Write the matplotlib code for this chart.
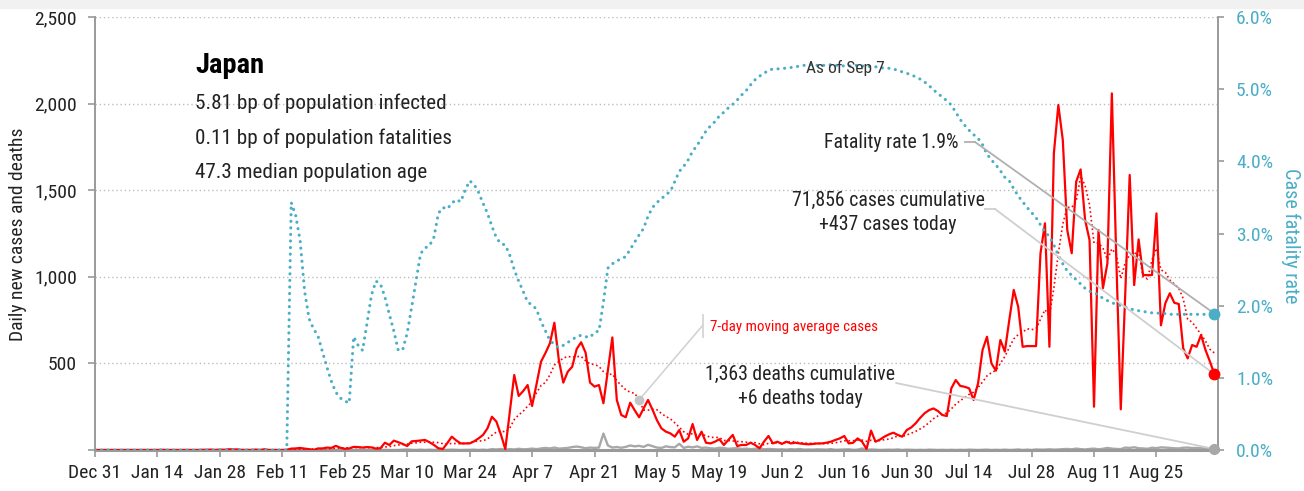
import os
import numpy as np
import pandas as pd
import matplotlib
matplotlib.use("Agg")
import matplotlib.pyplot as plt
import matplotlib.dates as mdates
from matplotlib import font_manager as fm
from matplotlib.lines import Line2D
from matplotlib.patches import Rectangle
from matplotlib.ticker import FixedLocator, FuncFormatter

# daily data, Dec 31 2019 .. Sep 7 2020
dates = pd.date_range("2019-12-31", "2020-09-07", freq="D")

cases_dec = [0]
cases_jan = [0, 0, 0, 0, 0, 0, 0, 0, 0, 0, 0, 0, 0, 0, 1, 0, 0, 0, 0, 0, 0, 0, 0,
             1, 1, 2, 0, 2, 1, 4, 3]
cases_feb = [3, 0, 0, 0, 2, 0, 4, 0, 0, 0, 0, 1, 8, 9, 12, 8, 5, 0, 9, 9, 14, 12, 24,
             13, 7, 9, 18, 17, 14]
cases_mar = [17, 15, 8, 10, 42, 29, 54, 45, 35, 23, 50, 52, 55, 58, 45, 29, 10, 6, 40,
             77, 55, 38, 38, 38, 50, 67, 87, 125, 192, 164, 90]
cases_apr = [5, 220, 433, 312, 340, 375, 254, 380, 510, 560, 616, 735, 520, 389, 452,
             481, 583, 622, 562, 389, 366, 375, 270, 460, 650, 289, 202, 189, 273, 230]
cases_may = [189, 240, 289, 233, 172, 125, 106, 96, 77, 115, 48, 67, 150, 58, 106, 42,
             38, 48, 62, 29, 58, 87, 23, 29, 29, 42, 29, 10, 48, 81, 38]
cases_jun = [48, 35, 48, 38, 42, 38, 35, 33, 35, 38, 38, 42, 48, 58, 67, 81, 38, 42, 67,
             48, 6, 112, 48, 60, 77, 90, 100, 87, 77, 115]
cases_jul = [130, 154, 185, 212, 230, 240, 225, 202, 196, 356, 404, 370, 365, 356, 289,
             385, 577, 654, 500, 458, 635, 568, 750, 924, 827, 596, 600, 600, 600, 1136,
             1309]
cases_aug = [596, 1713, 1992, 1790, 1270, 1136, 1549, 1620, 1328, 1212, 250, 1270, 934,
             1078, 2059, 1100, 235, 900, 1588, 952, 1216, 1010, 1010, 1010, 1366, 720,
             848, 905, 850, 843, 587]
cases_sep = [529, 606, 596, 664, 577, 510, 437]

deaths_dec = [0]
deaths_jan = [0, 0, 0, 0, 0, 0, 0, 0, 0, 0, 0, 0, 0, 0, 0, 0, 0, 0, 0, 0, 0, 0, 0, 0,
              0, 0, 0, 0, 0, 0, 0]
deaths_feb = [0, 0, 0, 0, 0, 0, 0, 0, 0, 0, 0, 0, 1, 0, 0, 0, 0, 0, 0, 1, 0, 0, 0, 0,
              1, 0, 0, 1, 0]
deaths_mar = [1, 0, 1, 0, 1, 0, 0, 0, 2, 3, 1, 0, 2, 0, 2, 0, 3, 0, 1, 2, 1, 0, 1, 1,
              2, 0, 2, 0, 5, 3, 6]
deaths_apr = [2, 5, 3, 7, 4, 5, 8, 5, 9, 12, 9, 14, 8, 10, 12, 17, 20, 16, 10, 14, 12,
              14, 95, 26, 14, 17, 13, 18, 26, 21]
deaths_may = [24, 18, 30, 22, 14, 12, 21, 17, 15, 36, 12, 19, 15, 21, 12, 14, 10, 8, 13,
              11, 7, 9, 11, 6, 8, 5, 7, 12, 4, 6, 5]
deaths_jun = [3, 4, 2, 5, 3, 6, 2, 3, 2, 4, 3, 2, 5, 1, 2, 3, 4, 1, 2, 9, 1, 3, 2, 0, 1,
              2, 1, 3, 0, 2]
deaths_jul = [1, 0, 1, 0, 2, 1, 0, 1, 0, 1, 0, 1, 0, 2, 1, 0, 1, 2, 0, 1, 0, 2, 0, 1, 3,
              0, 2, 0, 3, 2, 2]
deaths_aug = [4, 2, 3, 5, 6, 4, 8, 5, 3, 6, 8, 4, 7, 12, 8, 6, 5, 14, 12, 16, 10, 9, 7,
              13, 11, 15, 14, 12, 10, 9, 13]
deaths_sep = [14, 11, 12, 10, 9, 8, 6]

# case fatality rate, percent
rate_dec = [0]
rate_jan = [0, 0, 0, 0, 0, 0, 0, 0, 0, 0, 0, 0, 0, 0, 0, 0, 0, 0, 0, 0, 0, 0, 0, 0, 0,
            0, 0, 0, 0, 0, 0]
rate_feb = [0, 0, 0, 0, 0, 0, 0, 0, 0, 0, 0, 0, 3.43, 3.25, 2.90, 2.20, 1.82, 1.68,
            1.58, 1.36, 1.15, 0.95, 0.80, 0.72, 0.68, 0.65, 1.57, 1.45, 1.38]
rate_mar = [1.76, 2.15, 2.34, 2.30, 2.12, 1.88, 1.65, 1.38, 1.39, 1.62, 1.98, 2.35,
            2.72, 2.80, 2.83, 2.95, 3.28, 3.36, 3.34, 3.42, 3.47, 3.44, 3.60, 3.73, 3.68,
            3.57, 3.42, 3.28, 3.10, 2.94, 2.86]
rate_apr = [2.84, 2.70, 2.50, 2.34, 2.20, 2.05, 2.01, 1.95, 1.78, 1.65, 1.52, 1.46,
            1.42, 1.45, 1.49, 1.53, 1.57, 1.59, 1.57, 1.56, 1.63, 1.65, 2.05, 2.52, 2.58,
            2.62, 2.65, 2.68, 2.78, 2.88]
rate_may = [2.98, 3.07, 3.24, 3.36, 3.43, 3.48, 3.54, 3.58, 3.72, 3.86, 3.93, 4.02,
            4.14, 4.22, 4.32, 4.42, 4.49, 4.55, 4.63, 4.68, 4.74, 4.79, 4.85, 4.92, 4.98,
            5.06, 5.13, 5.18, 5.22, 5.26, 5.28]
rate_jun = [5.28, 5.29, 5.29, 5.30, 5.31, 5.32, 5.33, 5.34, 5.33, 5.33, 5.33, 5.33,
            5.34, 5.33, 5.33, 5.32, 5.32, 5.33, 5.33, 5.32, 5.32, 5.31, 5.31, 5.30, 5.29,
            5.29, 5.28, 5.26, 5.24, 5.22]
rate_jul = [5.20, 5.17, 5.14, 5.10, 5.05, 4.99, 4.94, 4.89, 4.84, 4.78, 4.68, 4.58,
            4.50, 4.43, 4.37, 4.32, 4.23, 4.10, 4.02, 3.95, 3.87, 3.78, 3.73, 3.62, 3.52,
            3.44, 3.36, 3.29, 3.22, 3.12, 3.02]
rate_aug = [2.96, 2.84, 2.70, 2.58, 2.48, 2.42, 2.36, 2.30, 2.24, 2.20, 2.18, 2.15,
            2.10, 2.07, 2.04, 2.02, 2.00, 1.98, 1.96, 1.94, 1.93, 1.92, 1.91, 1.90, 1.90,
            1.89, 1.89, 1.88, 1.88, 1.88, 1.88]
rate_sep = [1.88, 1.88, 1.88, 1.88, 1.88, 1.89, 1.89]

cases = np.array(cases_dec + cases_jan + cases_feb + cases_mar + cases_apr + cases_may
                 + cases_jun + cases_jul + cases_aug + cases_sep, dtype=float)
deaths = np.array(deaths_dec + deaths_jan + deaths_feb + deaths_mar + deaths_apr
                  + deaths_may + deaths_jun + deaths_jul + deaths_aug + deaths_sep,
                  dtype=float)
rate = np.array(rate_dec + rate_jan + rate_feb + rate_mar + rate_apr + rate_may
                + rate_jun + rate_jul + rate_aug + rate_sep)
avg7 = pd.Series(cases).rolling(7, min_periods=1).mean().values

RED = "#ff0000"
TEAL = "#4aaec6"
GRAY = "#a8a8a8"
AXGRAY = "#9a9a9a"
INK = "#222222"

W, H = 1304, 491
K = 6 / 2500  # left-axis value -> right-axis value


def find_narrow(bold=False):
    # look for an installed condensed/narrow face
    files = set(f.fname for f in fm.fontManager.ttflist)
    files |= set(fm.findSystemFonts())
    prefs = ["liberationsansnarrow", "robotocondensed", "opensanscondensed",
             "opensans_condensed", "notosans-condensed", "notosanscondensed",
             "dejavusanscondensed", "condensed", "narrow"]
    bad = ["italic", "oblique", "extra", "ultra", "semi", "light", "thin", "black",
           "medium", "semibold"]
    best, best_rank = None, 99
    for f in files:
        base = os.path.basename(f).lower().replace(" ", "")
        if any(b in base for b in bad):
            continue
        if bold != ("bold" in base):
            continue
        for r, p in enumerate(prefs):
            if p in base and r < best_rank:
                best, best_rank = f, r
    return best


NARROW = find_narrow(False)
NARROW_B = find_narrow(True) or NARROW
SCALE = 1.0 if NARROW else 0.8


def FP(size, bold=False):
    f = NARROW_B if bold else NARROW
    if f:
        return fm.FontProperties(fname=f, size=size * SCALE)
    return fm.FontProperties(family="DejaVu Sans", size=size * SCALE,
                             weight="bold" if bold else "normal")


def fp(x, y):
    # pixel position (from top-left) -> figure fraction
    return x / W, 1 - y / H


fig = plt.figure(figsize=(W / 100, H / 100), dpi=100)
fig.patches.append(Rectangle((0, 1 - 8 / H), 1, 8 / H, transform=fig.transFigure,
                             color="#f1f1f1", zorder=0))

ax = fig.add_axes([95 / W, 41 / H, (1218 - 95) / W, 433 / H])
ax2 = ax.twinx()

x = mdates.date2num(dates)
ax.plot(x, deaths, color=GRAY, lw=1.7, zorder=2)
ax.plot(x, avg7, color=RED, lw=1.2, ls=(0, (1, 1.6)), zorder=3)
ax.plot(x, cases, color=RED, lw=1.6, zorder=4)

ax2.plot(x, rate, color=TEAL, lw=2.2, ls=(0, (0.05, 2.1)), dash_capstyle="round",
         zorder=3)
ax2.plot(x[-1], rate[-1], "o", ms=7.5, color=TEAL, zorder=7, clip_on=False)
ax2.plot(x[-1], cases[-1] * K, "o", ms=7.5, color=RED, zorder=7, clip_on=False)
ax2.plot(x[-1], deaths[-1] * K, "o", ms=7, color=GRAY, zorder=7, clip_on=False)

ax.set_xlim(x[0], x[-1] + 0.8)
ax.set_ylim(0, 2500)
ax2.set_ylim(0, 6)

yt = [0, 500, 1000, 1500, 2000, 2500]
ax.yaxis.set_major_locator(FixedLocator(yt))
ax.yaxis.set_major_formatter(FuncFormatter(lambda v, p: "" if v == 0 else f"{v:,.0f}"))
ax2.yaxis.set_major_locator(FixedLocator([0, 1, 2, 3, 4, 5, 6]))
ax2.yaxis.set_major_formatter(FuncFormatter(lambda v, p: f"{v:.1f}%"))

xt = x[::14]
ax.xaxis.set_major_locator(FixedLocator(xt))
ax.set_xticklabels([f"{d:%b} {d.day}" for d in dates[::14]])

ax.yaxis.grid(True, color="#bdbdbd", lw=1, ls=(0, (1, 2)))
ax.set_axisbelow(True)

for a in (ax, ax2):
    a.spines["top"].set_visible(False)
    a.spines["left"].set_color(AXGRAY)
    a.spines["right"].set_color(AXGRAY)
    a.spines["left"].set_linewidth(1.2)
    a.spines["right"].set_linewidth(1.2)
    a.spines["bottom"].set_color(AXGRAY)
    a.spines["bottom"].set_linewidth(2.2)
ax2.spines["bottom"].set_visible(False)

ax.tick_params(axis="y", length=5, width=1.2, color=AXGRAY, pad=8, labelcolor=INK)
ax.tick_params(axis="x", length=5, width=1.2, color=AXGRAY, pad=5, labelcolor=INK)
ax2.tick_params(axis="y", length=4, width=1.2, color=AXGRAY, pad=9, labelcolor=TEAL)
for lbl in ax.get_xticklabels() + ax.get_yticklabels() + ax2.get_yticklabels():
    lbl.set_fontproperties(FP(14))

fig.text(*fp(18, 234), "Daily new cases and deaths", rotation=90, ha="center",
         va="center", fontproperties=FP(14), color=INK)
fig.text(*fp(1291, 236), "Case fatality rate", rotation=270, ha="center",
         va="center", fontproperties=FP(14.5), color=TEAL)

# country box
fig.text(*fp(195, 72.5), "Japan", fontproperties=FP(20.5, bold=True), color="black")
fig.text(*fp(195, 109), "5.81 bp of population infected", fontproperties=FP(15.2),
         color=INK)
fig.text(*fp(195, 143.5), "0.11 bp of population fatalities", fontproperties=FP(15.2),
         color=INK)
fig.text(*fp(195, 178.5), "47.3 median population age", fontproperties=FP(15.2),
         color=INK)

fig.text(*fp(845, 72.5), "As of Sep 7", ha="center", fontproperties=FP(12.5),
         color="#333333")

# end-of-series annotations
fig.text(*fp(958, 148), "Fatality rate 1.9%", ha="right", fontproperties=FP(14.2),
         color=INK)
fig.add_artist(Line2D([965 / W, 975 / W], [1 - 142 / H, 1 - 142 / H], color="#b0b0b0",
                      lw=1.3))
ax2.annotate("", xy=(x[-1], rate[-1]), xytext=fp(975, 142),
             textcoords="figure fraction",
             arrowprops=dict(arrowstyle="-", color="#b0b0b0", lw=1.3, shrinkA=0,
                             shrinkB=0), zorder=5)

fig.text(*fp(888, 206), "71,856 cases cumulative", ha="center", fontproperties=FP(14.2),
         color=INK)
fig.text(*fp(888, 230), "+437 cases today", ha="center", fontproperties=FP(14.2),
         color=INK)
fig.add_artist(Line2D([985 / W, 995 / W], [1 - 209 / H, 1 - 209 / H], color="#cfcfcf",
                      lw=1.3))
ax2.annotate("", xy=(x[-1], cases[-1] * K), xytext=fp(995, 209),
             textcoords="figure fraction",
             arrowprops=dict(arrowstyle="-", color="#cfcfcf", lw=1.3, shrinkA=0,
                             shrinkB=0), zorder=5)

fig.text(*fp(800, 380), "1,363 deaths cumulative", ha="center", fontproperties=FP(14.2),
         color=INK)
fig.text(*fp(800, 404), "+6 deaths today", ha="center", fontproperties=FP(14.2),
         color=INK)
ax2.annotate("", xy=(x[-1], deaths[-1] * K), xytext=fp(896, 383),
             textcoords="figure fraction",
             arrowprops=dict(arrowstyle="-", color="#cfcfcf", lw=1.3, shrinkA=0,
                             shrinkB=0), zorder=5)

# 7-day average label
i_dot = 122
fig.text(*fp(710, 330.5), "7-day moving average cases", fontproperties=FP(10.8),
         color=RED)
fig.add_artist(Line2D([703 / W, 703 / W], [1 - 315 / H, 1 - 337 / H], color="#d5d5d5",
                      lw=1.3))
ax2.plot(x[i_dot], avg7[i_dot] * K, "o", ms=6, color="#c4c4c4", zorder=6)
ax2.annotate("", xy=(x[i_dot], avg7[i_dot] * K), xytext=fp(703, 325),
             textcoords="figure fraction",
             arrowprops=dict(arrowstyle="-", color="#d0d0d0", lw=1.1, shrinkA=0,
                             shrinkB=0), zorder=5)

fig.savefig("out.png", dpi=100)
